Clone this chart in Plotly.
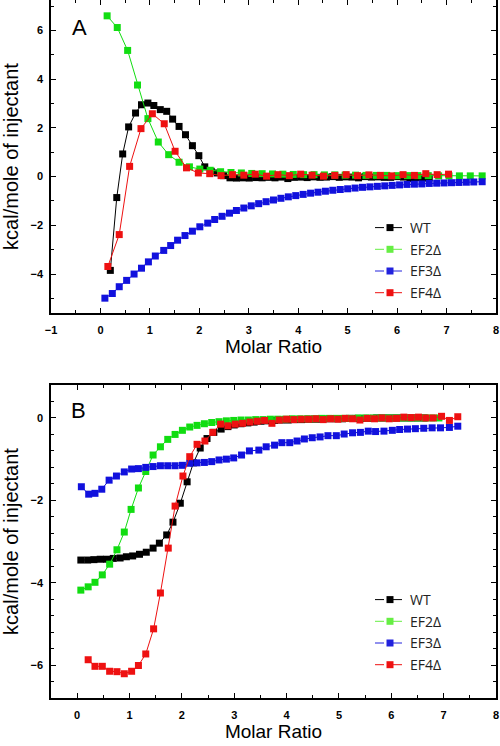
import plotly.graph_objects as go

# ---------------- Panel A data ----------------
xA_wt = [0.20,0.33,0.45,0.57,0.71,0.83,0.96,1.08,1.21,1.34,1.46,1.59,1.72,1.86,1.99,2.11,2.24,2.36,2.49,
         2.62,2.75,2.88,3.01,3.14,3.27,3.40,3.53,3.66,3.79,3.92,4.05,4.18,4.31,4.44,4.57,4.70,4.83,4.96,
         5.09,5.22,5.35,5.48,5.61,5.74,5.87,6.00,6.13,6.26,6.39,6.52,6.65]
yA_wt = [-3.85,-0.86,0.93,2.04,2.61,2.95,3.02,2.92,2.75,2.68,2.36,2.06,1.72,1.27,0.86,0.40,0.22,0.15,0.04,
         -0.05,-0.06,-0.05,-0.06,-0.04,-0.05,-0.03,-0.05,-0.02,-0.08,-0.03,-0.02,-0.04,-0.01,-0.03,-0.02,0.0,
         -0.03,-0.01,-0.02,-0.05,0.0,-0.02,-0.01,-0.03,-0.03,0.0,-0.02,-0.08,-0.04,-0.06,-0.05]

xA_ef2 = [0.135,0.34,0.55,0.75,0.96,1.17,1.38,1.59,1.80,2.01,2.22,2.43,2.64,2.85,3.06,3.27,3.48,3.69,3.90,
          4.11,4.32,4.53,4.74,4.95,5.16,5.37,5.58,5.79,6.00,6.21,6.42,6.63,6.84,7.05,7.26,7.48,7.72]
yA_ef2 = [6.60,6.12,5.18,3.76,2.38,1.42,0.90,0.59,0.40,0.31,0.26,0.20,0.17,0.15,0.13,0.12,0.11,0.10,0.09,
          0.08,0.08,0.07,0.07,0.06,0.06,0.05,0.05,0.05,0.04,0.04,0.04,0.04,0.03,0.03,0.03,0.03,0.03]

xA_ef3 = [0.09,0.24,0.38,0.53,0.68,0.83,0.97,1.11,1.28,1.42,1.56,1.71,1.86,2.01,2.17,2.31,2.46,2.61,2.75,
          2.90,3.05,3.20,3.35,3.50,3.65,3.80,3.95,4.10,4.25,4.40,4.55,4.70,4.85,5.00,5.15,5.30,5.45,5.60,
          5.75,5.90,6.05,6.20,6.35,6.50,6.65,6.80,6.95,7.10,7.25,7.40,7.55,7.72]
yA_ef3 = [-4.99,-4.80,-4.52,-4.26,-4.00,-3.76,-3.50,-3.26,-3.03,-2.83,-2.61,-2.42,-2.24,-2.06,-1.91,-1.76,
          -1.63,-1.50,-1.39,-1.29,-1.20,-1.11,-1.03,-0.96,-0.89,-0.83,-0.78,-0.73,-0.68,-0.64,-0.60,-0.56,
          -0.53,-0.50,-0.47,-0.44,-0.42,-0.40,-0.38,-0.36,-0.34,-0.32,-0.31,-0.30,-0.28,-0.27,-0.26,-0.25,
          -0.24,-0.23,-0.22,-0.21]

xA_ef4 = [0.15,0.38,0.59,0.82,1.05,1.29,1.51,1.74,1.98,2.21,2.44,2.67,2.90,3.13,3.36,3.59,3.82,4.05,4.28,
          4.51,4.74,4.97,5.20,5.43,5.66,5.89,6.12,6.35,6.58,6.81,7.04]
yA_ef4 = [-3.69,-2.38,0.42,1.97,2.58,2.17,1.04,0.36,0.15,0.12,0.04,0.08,0.06,0.10,0.02,0.08,0.04,0.10,0.06,
          0.02,0.05,0.08,0.04,0.07,0.05,0.03,0.08,0.05,0.12,0.08,0.10]

# ---------------- Panel B data ----------------
xB_wt = [0.07,0.20,0.32,0.44,0.56,0.69,0.82,0.94,1.06,1.19,1.32,1.45,1.57,1.71,1.83,1.97,2.10,2.22,2.35,2.48,
         2.61,2.75,2.88,3.00,3.13,3.26,3.38,3.51,3.64,3.77,3.90,4.03,4.16,4.29,4.42,4.55,4.68,4.81,4.94,5.07,
         5.20,5.33,5.46,5.59,5.72,5.85,5.98,6.11,6.24,6.37,6.50,6.63]
yB_wt = [-3.45,-3.45,-3.44,-3.43,-3.43,-3.41,-3.40,-3.37,-3.35,-3.31,-3.26,-3.16,-3.04,-2.84,-2.53,-2.07,
         -1.55,-1.09,-0.73,-0.50,-0.35,-0.27,-0.21,-0.17,-0.14,-0.12,-0.10,-0.08,-0.07,-0.06,-0.05,-0.05,
         -0.04,-0.04,-0.03,-0.03,-0.03,-0.02,-0.02,-0.02,-0.01,-0.01,-0.01,-0.01,0.0,0.0,0.0,0.0,0.0,0.0,
         0.0,0.0]

xB_ef2 = [0.07,0.21,0.34,0.48,0.62,0.76,0.90,1.03,1.17,1.31,1.45,1.59,1.73,1.87,2.01,2.15,2.29,2.43,2.57,2.71,
          2.85,2.99,3.13,3.27,3.41,3.55,3.69,3.83,3.97,4.11,4.25,4.39,4.53,4.67,4.81,4.95,5.09,5.23,5.37,5.51,
          5.65,5.79,5.93,6.07,6.21,6.35,6.49,6.63,6.77,6.91]
yB_ef2 = [-4.18,-4.10,-3.99,-3.81,-3.55,-3.20,-2.77,-2.22,-1.70,-1.30,-0.90,-0.70,-0.52,-0.40,-0.30,-0.22,
          -0.18,-0.14,-0.11,-0.09,-0.07,-0.06,-0.05,-0.05,-0.04,-0.04,-0.03,-0.03,-0.03,-0.02,-0.02,-0.02,
          -0.02,-0.01,-0.01,-0.01,-0.01,-0.01,0.0,0.0,0.0,0.0,0.0,0.0,0.0,0.0,0.0,0.0,0.0,0.0]

xB_ef3 = [0.08,0.22,0.34,0.47,0.61,0.75,0.90,1.04,1.17,1.31,1.45,1.59,1.73,1.87,2.01,2.15,2.29,2.43,2.57,2.71,
          2.85,2.99,3.14,3.29,3.47,3.61,3.77,3.91,4.06,4.20,4.34,4.49,4.64,4.79,4.95,5.10,5.26,5.41,5.56,5.70,
          5.86,6.02,6.16,6.31,6.46,6.62,6.78,6.94,7.11,7.27]
yB_ef3 = [-1.67,-1.85,-1.83,-1.73,-1.51,-1.41,-1.31,-1.24,-1.23,-1.20,-1.18,-1.16,-1.16,-1.16,-1.15,-1.10,
          -1.09,-1.08,-1.06,-1.02,-1.00,-0.97,-0.90,-0.80,-0.78,-0.70,-0.66,-0.60,-0.60,-0.56,-0.51,-0.48,
          -0.46,-0.43,-0.43,-0.39,-0.36,-0.35,-0.32,-0.33,-0.32,-0.30,-0.28,-0.27,-0.26,-0.25,-0.24,-0.24,
          -0.23,-0.20]

xB_ef4 = [0.21,0.34,0.48,0.62,0.76,0.90,1.04,1.17,1.31,1.46,1.59,1.74,1.87,2.02,2.15,2.29,2.44,2.59,2.74,2.88,
          3.02,3.16,3.30,3.44,3.58,3.72,3.86,4.00,4.14,4.28,4.42,4.56,4.70,4.84,4.98,5.12,5.26,5.40,5.54,5.68,
          5.82,5.96,6.10,6.24,6.38,6.52,6.66,6.80,6.96,7.11,7.27]
yB_ef4 = [-5.87,-6.03,-6.03,-6.15,-6.16,-6.21,-6.15,-6.01,-5.73,-5.12,-4.25,-3.16,-2.14,-1.41,-0.94,-0.64,
          -0.56,-0.35,-0.15,-0.19,-0.15,-0.13,-0.10,-0.08,-0.06,-0.13,-0.05,-0.03,-0.04,-0.03,-0.03,-0.02,
          -0.04,-0.02,-0.03,-0.01,-0.02,-0.05,-0.01,-0.02,0.0,-0.02,-0.01,0.02,0.01,0.02,0.0,0.0,0.04,-0.06,
          0.03]

series_names = ["WT", "EF2Δ", "EF3Δ", "EF4Δ"]
colors = ["#000000", "#11dd11", "#1111dd", "#ee1111"]
legend_colors = ["#000000", "#66ee44", "#2222dd", "#ee1111"]

panelA = [(xA_wt, yA_wt), (xA_ef2, yA_ef2), (xA_ef3, yA_ef3), (xA_ef4, yA_ef4)]
panelB = [(xB_wt, yB_wt), (xB_ef2, yB_ef2), (xB_ef3, yB_ef3), (xB_ef4, yB_ef4)]

fig = go.Figure()

for (xs, ys), c in zip(panelA, colors):
    fig.add_trace(go.Scatter(x=xs, y=ys, mode="lines+markers", xaxis="x", yaxis="y",
                             line=dict(color=c, width=1),
                             marker=dict(symbol="square", size=7, color=c),
                             showlegend=False))
for (xs, ys), c in zip(panelB, colors):
    fig.add_trace(go.Scatter(x=xs, y=ys, mode="lines+markers", xaxis="x2", yaxis="y2",
                             line=dict(color=c, width=1),
                             marker=dict(symbol="square", size=7, color=c),
                             showlegend=False))

# legend entries (dashed samples)
for lg, xa, ya in [("legend", "x", "y"), ("legend2", "x2", "y2")]:
    for name, c in zip(series_names, legend_colors):
        fig.add_trace(go.Scatter(x=[None], y=[None], mode="lines+markers", name=name,
                                 xaxis=xa, yaxis=ya, legend=lg, legendgroup=lg + name,
                                 line=dict(color=c, width=1, dash="dash"),
                                 marker=dict(symbol="square", size=7, color=c)))

tickfont = dict(family="Liberation Sans, Arial, sans-serif", size=11, color="black", weight="bold")
titlefont = dict(family="Liberation Sans, Arial, sans-serif", size=19, color="black")

def xax(rng, dom, anchor):
    return dict(range=rng, domain=dom, anchor=anchor, dtick=1, tick0=0,
                ticks="inside", ticklen=5, tickwidth=1, tickcolor="black",
                minor=dict(ticks="inside", ticklen=3, dtick=0.5, tickcolor="black"),
                showline=True, linecolor="black", linewidth=1.5, mirror="allticks",
                showgrid=False, zeroline=False, tickfont=tickfont, ticklabelstandoff=6,
                automargin=False,
                title=dict(text="Molar Ratio", font=titlefont, standoff=4))

def yax(rng, dom, anchor, mdt):
    return dict(range=rng, domain=dom, anchor=anchor, dtick=2, tick0=0,
                ticks="inside", ticklen=5, tickwidth=1, tickcolor="black",
                minor=dict(ticks="inside", ticklen=3, dtick=mdt, tick0=0, tickcolor="black"),
                showline=True, linecolor="black", linewidth=1.5, mirror="allticks",
                showgrid=False, zeroline=False, tickfont=tickfont, ticklabelstandoff=4,
                automargin=False,
                title=dict(text="kcal/mole of injectant",
                           font=dict(family="Liberation Sans, Arial, sans-serif", size=20, color="black"),
                           standoff=16))

legfont = dict(family="Open Sans, sans-serif", size=14, color="#222")

fig.update_layout(
    width=500, height=746,
    margin=dict(l=0, r=0, t=0, b=0),
    paper_bgcolor="white", plot_bgcolor="white",
    xaxis=xax([-1, 8], [0.102, 0.992], "y"),
    yaxis=yax([-5.6, 7.25], [0.5804, 1.0], "x", 1),
    xaxis2=xax([-0.5, 8], [0.102, 0.992], "y2"),
    yaxis2=yax([-6.8, 0.8], [0.0643, 0.4839], "x2", 0.4),
    legend=dict(x=370 / 500, y=1 - 212 / 746, xanchor="left", yanchor="top",
                bgcolor="rgba(0,0,0,0)", font=legfont, tracegroupgap=0.5),
    legend2=dict(x=370 / 500, y=1 - 584 / 746, xanchor="left", yanchor="top",
                 bgcolor="rgba(0,0,0,0)", font=legfont, tracegroupgap=0.5),
    annotations=[
        dict(text="A", x=79 / 500, y=1 - 27 / 746, xref="paper", yref="paper",
             xanchor="center", yanchor="middle", showarrow=False,
             font=dict(family="Liberation Sans, Arial, sans-serif", size=22, color="black")),
        dict(text="B", x=78.5 / 500, y=1 - 410 / 746, xref="paper", yref="paper",
             xanchor="center", yanchor="middle", showarrow=False,
             font=dict(family="Liberation Sans, Arial, sans-serif", size=22, color="black")),
    ],
)

fig.write_html("out.html", config={"displayModeBar": False},
               post_script="document.body.style.margin='0';")
